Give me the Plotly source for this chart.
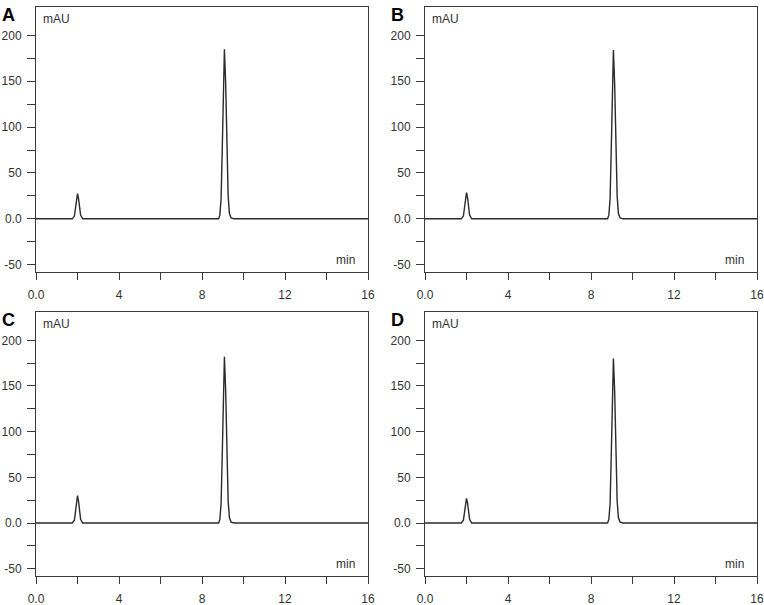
import plotly.graph_objects as go
from plotly.subplots import make_subplots

W, H = 764, 605

# retention time grid (min)
time = [0.0, 1.75, 1.85, 1.9, 1.95, 2.0, 2.05, 2.1, 2.15, 2.25,
        8.8, 8.86, 8.92, 8.97, 9.02, 9.08, 9.14, 9.2, 9.26, 9.32, 9.4, 9.55, 16.0]

# detector signal (mAU) per panel
signal_a = [0, 0, 3, 10, 21, 27.5, 22, 11, 4, 0,
            0, 4, 22, 70, 140, 185, 148, 76, 25, 6, 1, 0, 0]
signal_b = [0, 0, 3, 10, 22, 28.5, 23, 11, 4, 0,
            0, 4, 22, 70, 140, 184, 147, 75, 25, 6, 1, 0, 0]
signal_c = [0, 0, 3, 11, 23, 30, 24, 12, 4, 0,
            0, 4, 21, 69, 138, 182, 145, 74, 24, 6, 1, 0, 0]
signal_d = [0, 0, 3, 10, 21, 27, 22, 11, 4, 0,
            0, 4, 21, 68, 136, 180, 144, 73, 24, 6, 1, 0, 0]

panel_letters = ['A', 'B', 'C', 'D']
x_ticks = [0, 2, 4, 6, 8, 10, 12, 14, 16]
x_ticktext = ['0.0', '', '4', '', '8', '', '12', '', '16']
y_ticks = [-50, -25, 0, 25, 50, 75, 100, 125, 150, 175, 200]
y_ticktext = ['-50', '', '0.0', '', '50', '', '100', '', '150', '', '200']

FONT = 'Arial, Liberation Sans, sans-serif'
LINE = '#3a3a3a'

# pixel boxes of each plot area: left, right, top, bottom
boxes = [(36, 368, 7, 272), (425, 757, 7, 272),
         (36, 368, 312, 576), (425, 757, 312, 576)]

fig = make_subplots(rows=2, cols=2)

series = [signal_a, signal_b, signal_c, signal_d]
for i, sig in enumerate(series):
    r, c = i // 2 + 1, i % 2 + 1
    fig.add_trace(go.Scatter(x=time, y=sig, mode='lines',
                             line=dict(color='#2b2b2b', width=1.4),
                             showlegend=False), row=r, col=c)

for i, (l, rgt, t, b) in enumerate(boxes):
    n = '' if i == 0 else str(i + 1)
    fig.layout['xaxis' + n].update(
        domain=[l / W, rgt / W], range=[0, 16], tickvals=x_ticks, ticktext=x_ticktext,
        ticks='outside', ticklen=7, tickcolor=LINE, showline=True, linecolor=LINE,
        linewidth=1, mirror=True, showgrid=False, zeroline=False, automargin=False,
        tickfont=dict(family=FONT, size=12, color='#333'), ticklabelstandoff=5)
    fig.layout['yaxis' + n].update(
        domain=[1 - b / H, 1 - t / H], range=[-58, 231], tickvals=y_ticks, ticktext=y_ticktext,
        ticks='outside', ticklen=8, tickcolor=LINE, showline=True, linecolor=LINE,
        linewidth=1, mirror=True, showgrid=False, zeroline=False, automargin=False,
        tickfont=dict(family=FONT, size=12, color='#333'), ticklabelstandoff=3)

    # panel letter
    fig.add_annotation(text='<b>%s</b>' % panel_letters[i], xref='paper', yref='paper',
                       x=(l - 36) / W, y=1 - (t - 4) / H, xanchor='left', yanchor='top',
                       showarrow=False, font=dict(family=FONT, size=18, color='black'))
    # unit labels
    fig.add_annotation(text='mAU', xref='paper', yref='paper',
                       x=(l + 5) / W, y=1 - (t + 3) / H, xanchor='left', yanchor='top',
                       showarrow=False, font=dict(family=FONT, size=12, color='#333'))
    fig.add_annotation(text='min', xref='paper', yref='paper',
                       x=(rgt - 11) / W, y=1 - (b - 3) / H, xanchor='right', yanchor='bottom',
                       showarrow=False, font=dict(family=FONT, size=12, color='#333'))

fig.update_layout(width=W, height=H, margin=dict(l=0, r=0, t=0, b=0),
                  paper_bgcolor='white', plot_bgcolor='white')

# page body has a default 8px margin; drop it so the figure sits at the window origin
fig.write_html("out.html", config={'displayModeBar': False},
               post_script="document.body.style.margin='0';document.body.style.overflow='hidden';")
